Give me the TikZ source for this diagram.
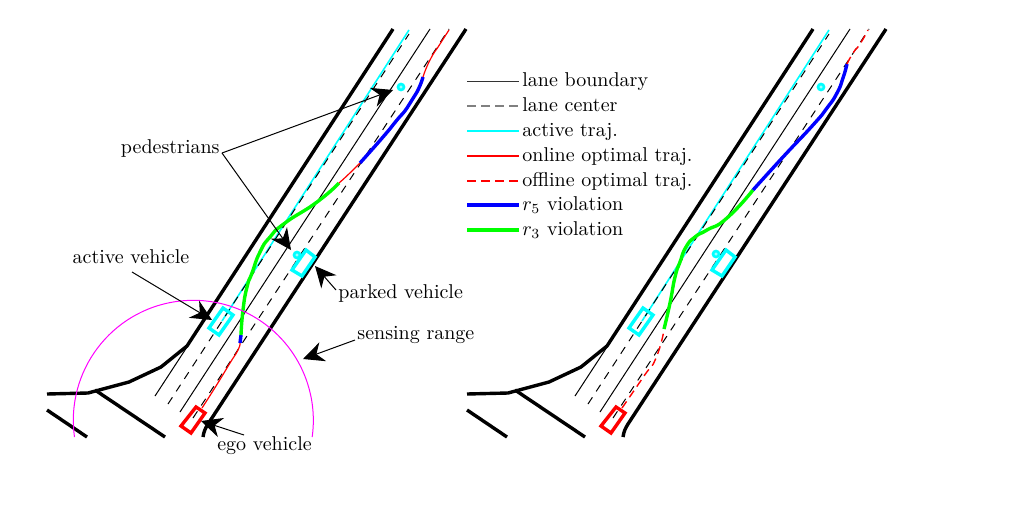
\documentclass[tikz,border=0pt]{standalone}
\usetikzlibrary{arrows.meta}
\definecolor{cyan}{rgb}{0,1,1}
\definecolor{magenta}{rgb}{1,0,1}
\definecolor{green}{rgb}{0,1,0}
\definecolor{blue}{rgb}{0,0,1}
\definecolor{red}{rgb}{1,0,0}
\tikzset{
  bound/.style={line width=1.7pt,black,line join=round},
  lane/.style={line width=0.5pt,black},
  center/.style={line width=0.5pt,black,dash pattern=on 4pt off 3.5pt},
  activetraj/.style={line width=0.8pt,cyan},
  onlinetraj/.style={line width=0.6pt,red},
  offlinetraj/.style={line width=0.7pt,red,dash pattern=on 4pt off 2.5pt},
  viol/.style={line width=1.7pt,blue},
  viog/.style={line width=1.7pt,green},
  veh/.style={line width=1.7pt,line join=miter},
  ped/.style={circle,draw=cyan,line width=1.3pt,fill=cyan!40,minimum size=3pt,inner sep=0pt},
  callout/.style={line width=0.5pt,black,-{Stealth[length=10.5pt,width=10pt,inset=3.4pt]}},
  lab/.style={inner sep=0pt,font=\fontsize{10}{12}\selectfont},
  leg/.style={inner sep=0pt,anchor=base west,font=\fontsize{10}{12}\selectfont},
  legA/.style={line width=0.5pt,black!80},
  legB/.style={line width=0.7pt,black!50,dash pattern=on 4.5pt off 2.5pt},
  legC/.style={line width=0.7pt,cyan},
  legD/.style={line width=0.7pt,red},
  legE/.style={line width=0.7pt,red,dash pattern=on 4.5pt off 2.5pt},
  legF/.style={line width=1.6pt,blue},
  legG/.style={line width=1.6pt,green}
}
\newcommand{\roadbase}{%
  \draw[bound] (47,394) -- (88,393) -- (129,382) -- (161,367) -- (187,346) -- (393,29);
  \draw[bound] (203,437) .. controls (204,431) and (205,429) .. (208,424) -- (466,29);
  \draw[bound] (95,390) -- (165,437);
  \draw[bound] (47,410) -- (87,437);
  \draw[lane] (155,396) -- (187,347);
  \draw[lane] (180,412) -- (430,29);
  \draw[activetraj] (222,321) -- (409,30);
  \draw[center] (168,404) -- (409,34);
  \draw[center] (193,418) -- (449,29);
  \draw[veh,red] (196,407) -- (205,413) -- (191,433) -- (181,426) -- cycle;
  \draw[veh,cyan] (223,308) -- (233,315) -- (219,335) -- (209,328) -- cycle;
  \draw[veh,cyan] (306,250) -- (315,257) -- (302,276) -- (292,270) -- cycle;
}
\begin{document}
\begin{tikzpicture}[x=0.5pt,y=-0.5pt]
\useasboundingbox (0,0) rectangle (1020,504);
% left panel
\roadbase
\draw[onlinetraj] plot[smooth,tension=1] coordinates {(202,408) (216,386) (230,363) (238,350) (240,343)};
\draw[viol] (240,343) -- (241,335);
\draw[viog] plot[smooth,tension=1] coordinates {(241,335) (243,310) (247,287) (252,273) (260,252) (270,237) (285,223) (317,202) (339,183)};
\draw[onlinetraj] (339,183) .. controls (346,177) and (353,170) .. (360,163);
\draw[viol] plot[smooth,tension=1] coordinates {(360,163) (383,137) (397,120) (407,108) (417,92) (423,77)};
\draw[onlinetraj] plot[smooth,tension=1] coordinates {(423,77) (430,60) (440,44) (449,30)};
\node[ped] (pedA) at (401,87) {};
\node[ped] (pedB) at (297,255) {};
\draw[magenta,line width=0.5pt] (74.5,437) arc[start angle=172,end angle=368,radius=120];
% right panel
\begin{scope}[xshift=210pt]
\roadbase
\draw[offlinetraj] plot[smooth,tension=1] coordinates {(202,408) (224,376) (236,358) (244,330)};
\draw[viog] plot[smooth,tension=1] coordinates {(244,329) (250,303) (255,277) (260,262) (266,247) (275,237) (287,230) (307,218) (333,190)};
\draw[viol] plot[smooth,tension=1] coordinates {(333,190) (363,157) (393,125) (407,108) (417,93) (423,78) (427,64)};
\draw[offlinetraj] plot[smooth,tension=1] coordinates {(427,64) (433,53) (440,44) (448,30)};
\node[ped] (pedC) at (401,87) {};
\node[ped] (pedD) at (296,254) {};
\end{scope}
% callouts
\node[lab,anchor=east] (pedestrians) at (220,148) {pedestrians};
\node[lab] (active) at (131,257) {active vehicle};
\node[lab,anchor=west] (parked) at (338,293) {parked vehicle};
\node[lab,anchor=west] (sensing) at (357,335) {sensing range};
\node[lab] (ego) at (264.5,446) {ego vehicle};
\coordinate (pa) at (222,153);
\coordinate (ta) at (393,90);
\coordinate (tb) at (291,250);
\coordinate (tc) at (212,320);
\coordinate (sa) at (132,272);
\coordinate (td) at (315,266);
\coordinate (sd) at (336,290);
\coordinate (te) at (303,359);
\coordinate (se) at (355,340);
\coordinate (tf) at (201,421);
\coordinate (sf) at (244,435);
\draw[callout] (pa) -- (ta);
\draw[callout] (pa) -- (tb);
\draw[callout] (sa) -- (tc);
\draw[callout] (sd) -- (td);
\draw[callout] (se) -- (te);
\draw[callout] (sf) -- (tf);
% legend
\foreach \yy/\st/\tx in {
  86/legA/lane boundary,
  111/legB/lane center,
  136/legC/active traj.,
  161/legD/online optimal traj.,
  186/legE/offline optimal traj.,
  210/legF/$r_5$ violation,
  235/legG/$r_3$ violation}
{
  \coordinate (ls) at (467,\yy-5);
  \node[leg] (lt) at (522,\yy) {\tx};
  \draw[\st] (ls) -- ++(52,0);
}
\end{tikzpicture}
\end{document}
